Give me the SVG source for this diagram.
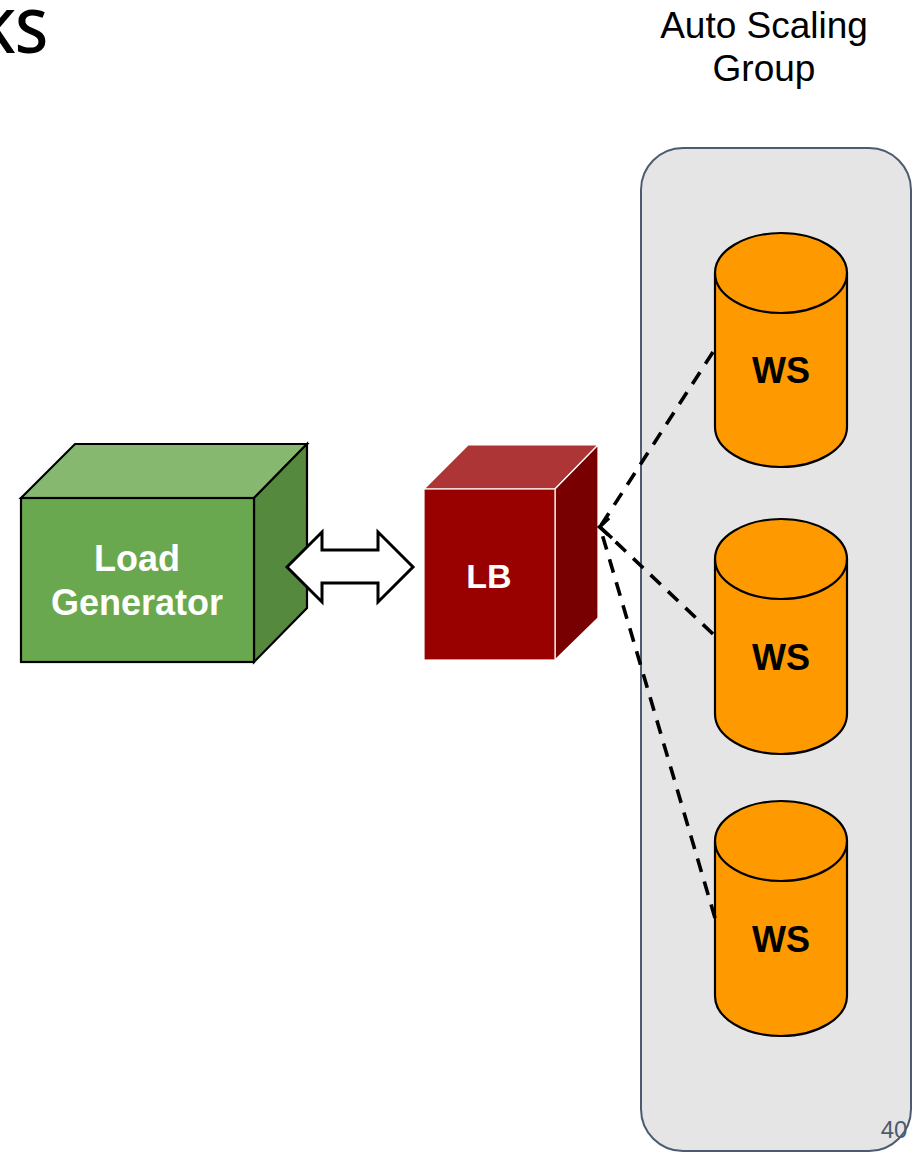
<svg xmlns="http://www.w3.org/2000/svg" width="912" height="1152" viewBox="0 0 912 1152">
<style>
.lbl{font-family:"Liberation Sans",Arial,sans-serif;font-weight:bold;text-anchor:middle}
.cyl{fill:#ff9900;stroke:#000;stroke-width:2.2}
.dash{fill:none;stroke:#000;stroke-width:3.6;stroke-dasharray:14 10}
</style>
<rect width="912" height="1152" fill="#fff"/>
<text x="48" y="53" font-family="'Open Sans','DejaVu Sans',sans-serif" font-size="60" font-weight="600" text-anchor="end" fill="#000">KS</text>
<g id="asg">
<rect x="641" y="148" width="270" height="1003" rx="42" ry="42" fill="#e5e5e5" stroke="#4c5b70" stroke-width="2"/>
<text x="764" y="38" font-family="'Liberation Sans',Arial,sans-serif" font-size="37" text-anchor="middle" fill="#000">Auto Scaling</text>
<text x="764" y="81" font-family="'Liberation Sans',Arial,sans-serif" font-size="37" text-anchor="middle" fill="#000">Group</text>
</g>
<g id="load-generator">
<polygon points="21,498 75,444 307,444 254,498" fill="#87b86f" stroke="#000" stroke-width="2.2"/>
<polygon points="254,498 307,444 307,608 254,662" fill="#558a3e" stroke="#000" stroke-width="2.2"/>
<rect x="21" y="498" width="233" height="164" fill="#6aa84f" stroke="#000" stroke-width="2.2"/>
<text class="lbl" x="137" y="571" font-size="36" fill="#fff">Load</text>
<text class="lbl" x="137" y="615" font-size="36" fill="#fff">Generator</text>
</g>
<g id="lb">
<polygon points="424,489 468,445 598,445 555,489" fill="#ad3535" stroke="#fff" stroke-width="1.2"/>
<polygon points="555,489 598,445 598,618 555,660" fill="#780000" stroke="#fff" stroke-width="1.2"/>
<rect x="424" y="489" width="131" height="171" fill="#990000" stroke="#fff" stroke-width="1.2"/>
<text class="lbl" x="489" y="588" font-size="34" fill="#fff">LB</text>
</g>
<g id="ws1">
<path class="cyl" d="M715 273 A66 40 0 0 1 847 273 L847 427 A66 40 0 0 1 715 427 Z"/>
<path d="M715 273 A66 40 0 0 0 847 273" fill="none" stroke="#000" stroke-width="2.2"/>
<text class="lbl" x="781" y="383" font-size="36" fill="#000">WS</text>
</g>
<g id="ws2">
<path class="cyl" d="M715 559 A66 40 0 0 1 847 559 L847 714 A66 40 0 0 1 715 714 Z"/>
<path d="M715 559 A66 40 0 0 0 847 559" fill="none" stroke="#000" stroke-width="2.2"/>
<text class="lbl" x="781" y="670" font-size="36" fill="#000">WS</text>
</g>
<g id="ws3">
<path class="cyl" d="M715 841 A66 40 0 0 1 847 841 L847 996 A66 40 0 0 1 715 996 Z"/>
<path d="M715 841 A66 40 0 0 0 847 841" fill="none" stroke="#000" stroke-width="2.2"/>
<text class="lbl" x="781" y="952" font-size="36" fill="#000">WS</text>
</g>
<g id="connectors">
<line class="dash" x1="713" y1="352" x2="600" y2="527"/>
<line class="dash" x1="713" y1="634" x2="600" y2="527"/>
<line class="dash" x1="715" y1="918" x2="600" y2="527"/>
<polyline points="609,518 599.5,527 612,538" fill="none" stroke="#000" stroke-width="3.6" stroke-linecap="butt"/>
<path id="biarrow" d="M287 567 L322 532 L322 550 L378 550 L378 532 L413 567 L378 602 L378 583 L322 583 L322 602 Z" fill="#fff" stroke="#000" stroke-width="3" stroke-linejoin="miter"/>
</g>
<text x="894" y="1138" font-family="'Liberation Sans',Arial,sans-serif" font-size="24" text-anchor="middle" fill="#4c5b70">40</text>
</svg>
